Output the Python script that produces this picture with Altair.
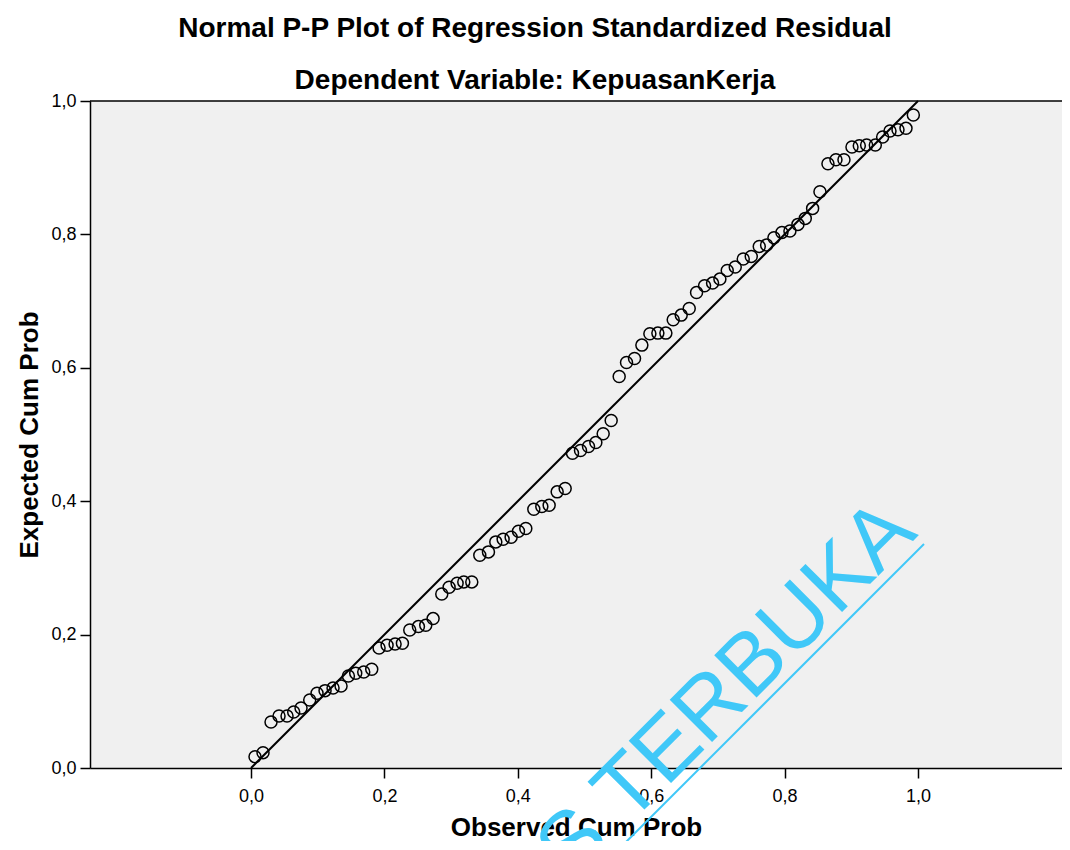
import altair as alt
import pandas as pd

# ---------------- data ----------------
x_obs = [0.006, 0.018, 0.030, 0.042, 0.054, 0.064, 0.075, 0.088, 0.099, 0.111,
         0.123, 0.135, 0.146, 0.157, 0.169, 0.181, 0.192, 0.204, 0.216, 0.227,
         0.238, 0.251, 0.262, 0.273, 0.286, 0.297, 0.309, 0.319, 0.331, 0.343,
         0.356, 0.367, 0.378, 0.390, 0.401, 0.412, 0.424, 0.436, 0.447, 0.459,
         0.471, 0.482, 0.494, 0.506, 0.517, 0.528, 0.540, 0.552, 0.563, 0.575,
         0.586, 0.598, 0.610, 0.622, 0.633, 0.645, 0.657, 0.668, 0.680, 0.692,
         0.703, 0.714, 0.726, 0.738, 0.750, 0.762, 0.773, 0.784, 0.796, 0.808,
         0.820, 0.831, 0.842, 0.853, 0.865, 0.877, 0.889, 0.901, 0.912, 0.923,
         0.936, 0.947, 0.958, 0.970, 0.982, 0.993]
y_exp = [0.017, 0.023, 0.069, 0.078, 0.078, 0.084, 0.090, 0.102, 0.112, 0.116,
         0.120, 0.123, 0.138, 0.142, 0.144, 0.148, 0.180, 0.184, 0.186, 0.187,
         0.207, 0.212, 0.214, 0.224, 0.261, 0.271, 0.277, 0.279, 0.279, 0.319,
         0.324, 0.339, 0.343, 0.346, 0.355, 0.359, 0.388, 0.392, 0.394, 0.414,
         0.419, 0.472, 0.476, 0.482, 0.488, 0.501, 0.521, 0.587, 0.608, 0.614,
         0.634, 0.651, 0.652, 0.652, 0.672, 0.679, 0.689, 0.713, 0.723, 0.727,
         0.733, 0.746, 0.751, 0.763, 0.767, 0.782, 0.784, 0.795, 0.803, 0.805,
         0.815, 0.824, 0.839, 0.864, 0.906, 0.912, 0.912, 0.931, 0.933, 0.934,
         0.934, 0.946, 0.955, 0.957, 0.959, 0.979]
ref_x = [0.0, 1.0]
ref_y = [0.0, 1.0]
tick_values = [0.0, 0.2, 0.4, 0.6, 0.8, 1.0]

title_text = "Normal P-P Plot of Regression Standardized Residual"
subtitle_text = "Dependent Variable: KepuasanKerja"
x_title = "Observed Cum Prob"
y_title = "Expected Cum Prob"
watermark_text = "UNIVERSITAS TERBUKA"

# ---------------- chart ----------------
W, H = 972, 667
FONT = "Liberation Sans"
WM_COLOR = "#40C8F8"

pts_df = pd.DataFrame({"obs": x_obs, "exp": y_exp})
ref_df = pd.DataFrame({"obs": ref_x, "exp": ref_y})
one_df = pd.DataFrame({"k": [0]})

xs = alt.Scale(domain=[-0.2414, 1.2159], nice=False, zero=False)
ys = alt.Scale(domain=[0.0, 1.0], nice=False, zero=False)
label_expr = "replace(format(datum.value, '.1f'), '.', ',')"

common_axis = dict(
    values=tick_values, labelExpr=label_expr, grid=False,
    domainColor="black", domainWidth=1.5, tickColor="black", tickWidth=1.5,
    tickSize=10, labelFont=FONT, labelFontSize=18, labelColor="black",
    titleFont=FONT, titleFontSize=26, titleFontWeight="bold", titleColor="black",
)
x_axis = alt.Axis(title=x_title, labelPadding=9, titlePadding=9, **common_axis)
y_axis = alt.Axis(title=y_title, labelPadding=4, titlePadding=8, **common_axis)

ref_line = alt.Chart(ref_df).mark_line(color="black", strokeWidth=2).encode(
    x=alt.X("obs:Q", scale=xs, axis=x_axis),
    y=alt.Y("exp:Q", scale=ys, axis=y_axis),
)

points = alt.Chart(pts_df).mark_point(
    shape="circle", filled=False, size=144, stroke="black", strokeWidth=1.5, opacity=1
).encode(
    x=alt.X("obs:Q", scale=xs, axis=x_axis),
    y=alt.Y("exp:Q", scale=ys, axis=y_axis),
)

top_border = alt.Chart(one_df).mark_rule(color="black", strokeWidth=1.5).encode(
    x=alt.value(0), x2=alt.value(W), y=alt.value(0)
)

wm_text = alt.Chart(one_df).mark_text(
    angle=315, align="right", baseline="alphabetic", fontSize=87, font=FONT,
    color=WM_COLOR
).encode(x=alt.value(829), y=alt.value(434), text=alt.value(watermark_text))

wm_rule = alt.Chart(one_df).mark_rule(color=WM_COLOR, strokeWidth=2).encode(
    x=alt.value(834), y=alt.value(443), x2=alt.value(530), y2=alt.value(747)
)

chart = alt.layer(ref_line, points, top_border, wm_text, wm_rule).properties(
    width=W, height=H,
    title=alt.TitleParams(
        text=title_text, subtitle=subtitle_text, anchor="middle", dx=-41, dy=11,
        font=FONT, fontSize=28, fontWeight="bold", color="black",
        subtitleFont=FONT, subtitleFontSize=28, subtitleFontWeight="bold",
        subtitleColor="black", subtitlePadding=24, offset=8,
    ),
    autosize=alt.AutoSizeParams(type="none"),
    padding={"left": 82, "top": 93, "right": 0, "bottom": 73},
).configure_view(fill="#F0F0F0", strokeWidth=0)

chart.save("out.html", embed_options={"renderer": "svg", "actions": False})
